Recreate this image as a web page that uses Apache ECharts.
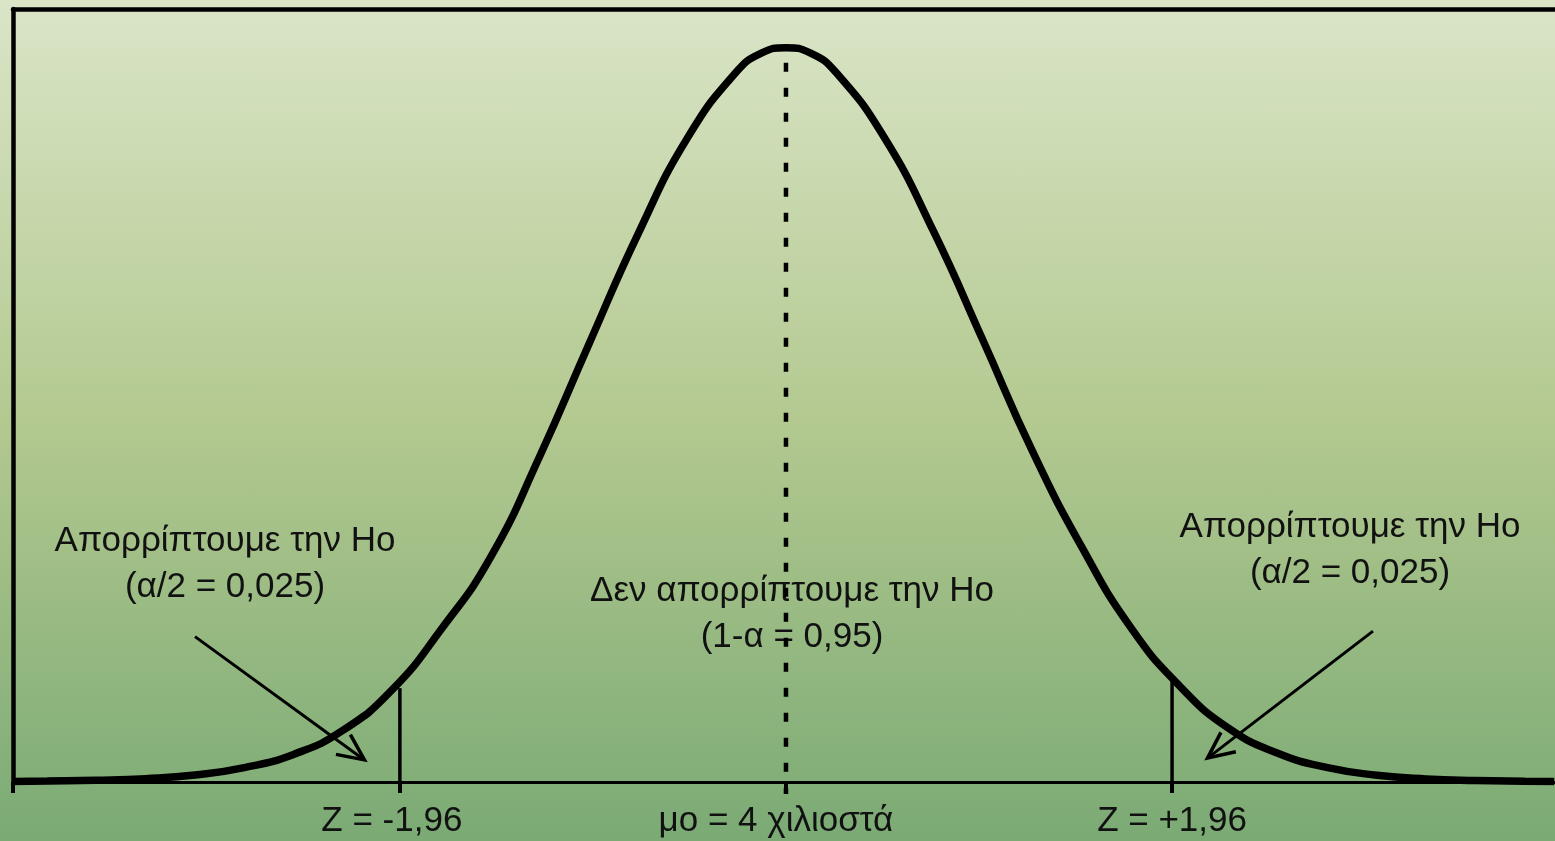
<!DOCTYPE html>
<html>
<head>
<meta charset="utf-8">
<title>Κανονική κατανομή - έλεγχος υπόθεσης</title>
<script src="https://cdn.jsdelivr.net/npm/echarts@6/dist/echarts.min.js"></script>
<style>
  html, body { margin: 0; padding: 0; }
  #chart {
    width: 1555px; height: 841px;
    background: linear-gradient(to bottom, #dae5c7 0%, #b3c990 50%, #7baa74 100%);
  }
</style>
</head>
<body>
<div id="chart"></div>
<script>
// καμπύλη: τιμές z και πυκνότητα, διαβασμένες από την εικόνα
var zValues = [-3.92, -3.75, -3.5, -3.25, -3.0, -2.75, -2.5, -2.25, -2.0, -1.75, -1.5,
  -1.25, -1.0, -0.75, -0.5, -0.25, -0.125, 0, 0.125, 0.25, 0.5, 0.75, 1.0, 1.25, 1.5, 1.75, 2.0,
  2.25, 2.5, 2.75, 3.0, 3.25, 3.5, 3.75, 3.90];
var density = [0.0003, 0.0005, 0.0009, 0.0018, 0.0038, 0.0078, 0.015, 0.028, 0.050, 0.083, 0.122,
  0.177, 0.238, 0.298, 0.350, 0.386, 0.396, 0.399, 0.396, 0.386, 0.350, 0.299, 0.240, 0.180, 0.128, 0.084, 0.052,
  0.029, 0.0155, 0.0078, 0.0037, 0.0017, 0.0008, 0.0004, 0.0003];

// κρίσιμες τιμές και μέσος
var tickValues = [-1.96, 0, 1.96];
var tickLabels = ['Z = -1,96', 'μo = 4 χιλιοστά', 'Z = +1,96'];
var guideTop = [0.051, 0.399, 0.056];

// βέλη: από (z, πυκνότητα) προς (z, πυκνότητα)
var arrowFrom = [[-3.00, 0.079], [2.98, 0.082]];
var arrowTo = [[-2.14, 0.012], [2.14, 0.013]];

var zMin = -3.924, zMax = 3.904;

var curveData = zValues.map(function (z, i) { return [z, density[i]]; });
var guideData = tickValues.map(function (z, i) { return [z, guideTop[i]]; });
var arrowData = arrowFrom.map(function (a, i) { return [a[0], a[1], arrowTo[i][0], arrowTo[i][1]]; });

var font = '"Liberation Sans", Arial, sans-serif';
var labelRich = {
  a: { fontSize: 35, fontFamily: font, color: '#111', padding: [0, 16, 0, 0] },
  b: { fontSize: 35, fontFamily: font, color: '#111', padding: [0, 20, 0, 0] },
  c: { fontSize: 35, fontFamily: font, color: '#111', padding: [0, 0, 0, 0] }
};

var chart = echarts.init(document.getElementById('chart'));

chart.setOption({
  animation: false,
  grid: { left: 13, right: 0, top: 9, bottom: 59 },
  xAxis: [{
    type: 'value', min: zMin, max: zMax,
    splitLine: { show: false },
    axisLine: { onZero: false, lineStyle: { color: '#000', width: 3 } },
    axisTick: {
      show: true, length: 11, customValues: [zMin].concat(tickValues),
      lineStyle: { color: '#000', width: 4 }
    },
    axisLabel: {
      customValues: tickValues,
      margin: 22,
      color: '#111',
      fontSize: 35,
      fontFamily: font,
      rich: labelRich,
      formatter: function (v) {
        var i = tickValues.indexOf(v);
        return i >= 0 ? '{' + 'abc'[i] + '|' + tickLabels[i] + '}' : '';
      }
    }
  }, {
    type: 'value', min: zMin, max: zMax, position: 'top',
    splitLine: { show: false },
    axisLine: { onZero: false, lineStyle: { color: '#000', width: 4.5 } },
    axisTick: { show: false },
    axisLabel: { show: false }
  }],
  yAxis: {
    type: 'value', min: 0, max: 0.42,
    splitLine: { show: false },
    axisLine: { show: true, onZero: false, lineStyle: { color: '#000', width: 4.5 } },
    axisTick: { show: false },
    axisLabel: { show: false }
  },
  series: [{
    type: 'line',
    data: curveData,
    smooth: 0.5,
    showSymbol: false,
    lineStyle: { color: '#000', width: 7.5 },
    z: 5
  }, {
    // κάθετες γραμμές στις κρίσιμες τιμές και στον μέσο
    type: 'custom',
    data: guideData,
    clip: false,
    z: 100,
    renderItem: function (params, api) {
      var x = api.value(0);
      var top = api.coord([x, api.value(1)]);
      var bottom = api.coord([x, 0]);
      var dashed = x === 0;
      return {
        type: 'line',
        shape: { x1: top[0], y1: top[1], x2: bottom[0], y2: bottom[1] + (dashed ? 12 : 0) },
        style: {
          stroke: '#000',
          lineWidth: dashed ? 4.5 : 3.5,
          lineDash: dashed ? [9, 16] : null,
          lineDashOffset: dashed ? 10 : 0
        }
      };
    }
  }, {
    type: 'custom',
    data: arrowData,
    clip: false,
    encode: { x: [0, 2], y: [1, 3] },
    z: 6,
    renderItem: function (params, api) {
      var a = api.coord([api.value(0), api.value(1)]);
      var b = api.coord([api.value(2), api.value(3)]);
      var ang = Math.atan2(a[1] - b[1], a[0] - b[0]);
      var len = 29, spread = 25 * Math.PI / 180;
      var h1 = [b[0] + len * Math.cos(ang + spread), b[1] + len * Math.sin(ang + spread)];
      var h2 = [b[0] + len * Math.cos(ang - spread), b[1] + len * Math.sin(ang - spread)];
      return {
        type: 'group',
        children: [{
          type: 'line',
          shape: { x1: a[0], y1: a[1], x2: b[0], y2: b[1] },
          style: { stroke: '#000', lineWidth: 3 }
        }, {
          type: 'polyline',
          shape: { points: [h1, b, h2] },
          style: { stroke: '#000', lineWidth: 3.5, fill: null }
        }]
      };
    }
  }],
  graphic: [{
    type: 'text', x: 225, y: 564, z: 10,
    style: {
      text: 'Απορρίπτουμε την Ho\n(α/2 = 0,025)',
      font: '35px ' + font, fill: '#111', lineHeight: 46,
      textAlign: 'center', textVerticalAlign: 'middle'
    }
  }, {
    type: 'text', x: 792, y: 614, z: 10,
    style: {
      text: 'Δεν απορρίπτουμε την Ho\n(1-α = 0,95)',
      font: '35px ' + font, fill: '#111', lineHeight: 46,
      textAlign: 'center', textVerticalAlign: 'middle'
    }
  }, {
    type: 'text', x: 1350, y: 550, z: 10,
    style: {
      text: 'Απορρίπτουμε την Ho\n(α/2 = 0,025)',
      font: '35px ' + font, fill: '#111', lineHeight: 46,
      textAlign: 'center', textVerticalAlign: 'middle'
    }
  }]
});
</script>
</body>
</html>
